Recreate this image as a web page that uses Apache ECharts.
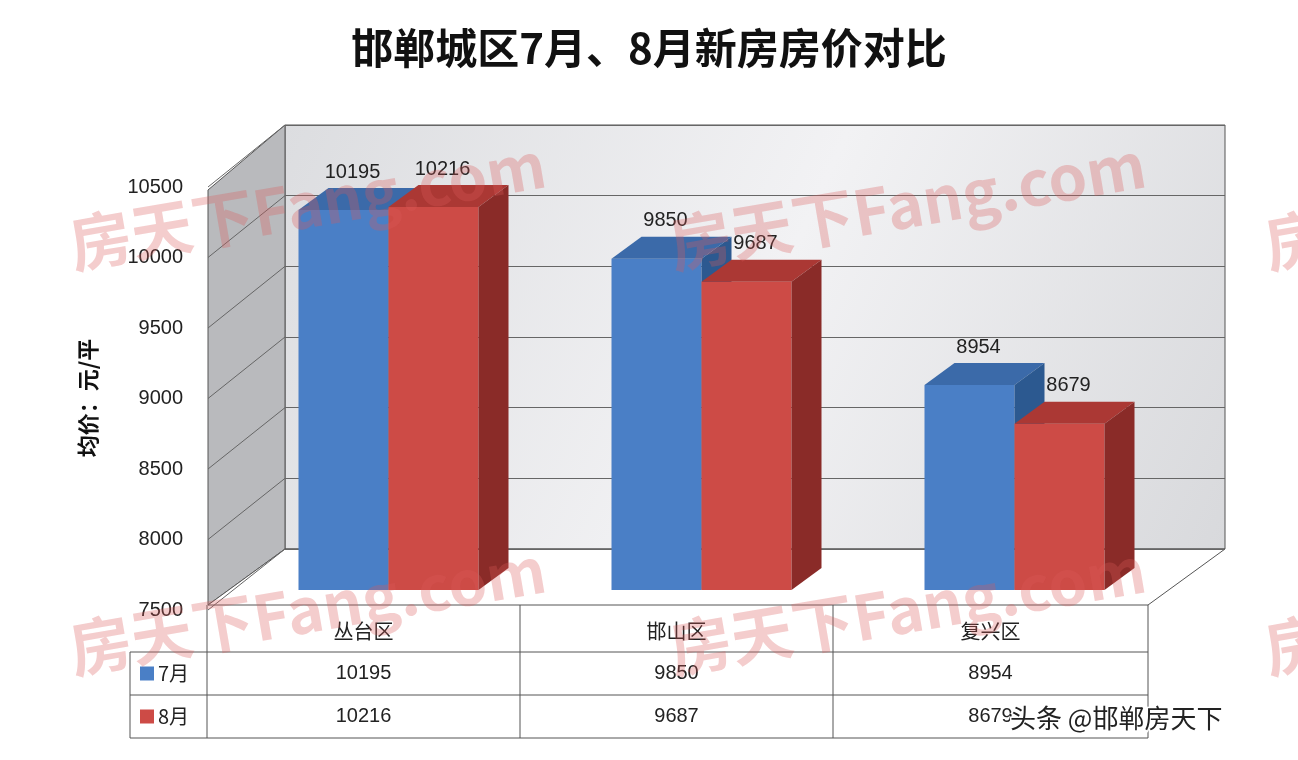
<!DOCTYPE html>
<html><head><meta charset="utf-8">
<script src="https://cdn.jsdelivr.net/npm/echarts@6/dist/echarts.min.js"></script>
<style>html,body{margin:0;padding:0;background:#fff}#c{width:1298px;height:760px}</style>
</head><body><div id="c"></div>
<script>
const categories = ["丛台区", "邯山区", "复兴区"];
const months = ["7月", "8月"];
const july = [10195, 9850, 8954];
const august = [10216, 9687, 8679];
const yMin = 7500, yMax = 10500, yStep = 500;

const fronts = ["#4a7fc6", "#cd4b46"];
const tops = ["#3b6aa9", "#ab3834"];
const sides = ["#2c5990", "#8a2b28"];
const DX = 30, DY = 22, W = 90;

function barSeries(idx, values) {
    return {
        type: "custom",
        xAxisIndex: 0, yAxisIndex: 0,
        data: values.map((v, i) => [i, v]),
        renderItem: function (params, api) {
            const i = api.value(0), v = api.value(1);
            const p = api.coord([i, v]);
            const base = api.coord([i, yMin])[1];
            const x0 = p[0] + (idx === 0 ? -W : 0), top = p[1];
            return {
                type: "group",
                children: [
                    {type: "rect", shape: {x: x0, y: top, width: W, height: base - top}, style: {fill: fronts[idx]}},
                    {type: "polygon", shape: {points: [[x0, top], [x0 + DX, top - DY], [x0 + W + DX, top - DY], [x0 + W, top]]}, style: {fill: tops[idx]}},
                    {type: "polygon", shape: {points: [[x0 + W, top], [x0 + W + DX, top - DY], [x0 + W + DX, base - DY], [x0 + W, base]]}, style: {fill: sides[idx]}},
                    {type: "text", style: {text: String(v), x: x0 + W / 2 + DX / 2 - 6, y: top - DY - 6, textAlign: "center", textVerticalAlign: "bottom", fill: "#222", font: "20px 'Liberation Sans', Arial"}}
                ]
            };
        }
    };
}

const chart = echarts.init(document.getElementById("c"));
chart.setOption({
    animation: false,
    title: {text: "邯郸城区7月、8月新房房价对比", left: "center", top: 22,
        textStyle: {fontSize: 42, fontWeight: "bold", color: "#111", fontFamily: "'Noto Sans CJK SC', serif"}},
    grid: [
        {left: 232, width: 939, top: 167, height: 423},
        {left: 200, width: 10, top: 187, height: 423},
        {left: 285, width: 940, top: 125, height: 424}
    ],
    xAxis: [
        {gridIndex: 0, type: "category", data: categories, show: false},
        {gridIndex: 1, type: "value", show: false},
        {gridIndex: 2, type: "value", show: false}
    ],
    yAxis: [
        {gridIndex: 0, type: "value", min: yMin, max: yMax, show: false},
        {gridIndex: 1, type: "value", min: yMin, max: yMax, interval: yStep,
            axisLine: {show: false}, axisTick: {show: false}, splitLine: {show: false},
            axisLabel: {margin: 17, fontSize: 20, color: "#222", fontFamily: "'Liberation Sans', Arial", formatter: v => String(v)}},
        {gridIndex: 2, type: "value", min: yMin, max: yMax, interval: yStep,
            axisLine: {show: false}, axisTick: {show: false}, axisLabel: {show: false},
            splitLine: {lineStyle: {color: "#666", width: 1}}}
    ],
    series: [barSeries(0, july), barSeries(1, august)]
});

// walls, floor, table, watermarks
const g = [];
g.push({type: "polygon", z: -10, shape: {points: [[285, 125], [1225, 125], [1225, 549], [285, 549]]},
    style: {fill: {type: "linear", x: 0, y: 0, x2: 1, y2: 1, colorStops: [{offset: 0, color: "#dcdde0"}, {offset: 0.5, color: "#f2f2f4"}, {offset: 1, color: "#d8d9dc"}]}, stroke: "#555"}});
g.push({type: "polygon", z: -10, shape: {points: [[285, 125], [285, 549], [208, 605], [208, 190]]},
    style: {fill: "#b9babd", stroke: "#555"}});
g.push({type: "polygon", z: -10, shape: {points: [[285, 549], [1225, 549], [1148, 605], [208, 605]]},
    style: {fill: "#fff", stroke: "#555"}});
for (let v = yMin; v <= yMax; v += yStep) {
    const yb = chart.convertToPixel({gridIndex: 2}, [0, v])[1];
    const yf = chart.convertToPixel({gridIndex: 1}, [0, v])[1];
    g.push({type: "line", z: -9, shape: {x1: 208, y1: yf, x2: 285, y2: yb}, style: {stroke: "#666"}});
}
// y-axis title
g.push({type: "text", rotation: Math.PI / 2, x: 88, y: 398,
    style: {text: "均价：元/平", textAlign: "center", textVerticalAlign: "middle", fill: "#111", font: "bold 22px 'Noto Sans CJK SC'"}});
// table
const cols = [207, 520, 833, 1148];
const rows = [610, 652, 695, 738];
g.push({type: "polyline", shape: {points: [[207, 605], [207, 738]]}, style: {stroke: "#555"}});
for (let c = 1; c < 4; c++) g.push({type: "line", shape: {x1: cols[c], y1: 605, x2: cols[c], y2: 738}, style: {stroke: "#555"}});
g.push({type: "line", shape: {x1: 130, y1: 652, x2: 130, y2: 738}, style: {stroke: "#555"}});
for (let r = 1; r < 4; r++) g.push({type: "line", shape: {x1: 130, y1: rows[r], x2: 1148, y2: rows[r]}, style: {stroke: "#555"}});
categories.forEach((c, i) => g.push({type: "text", x: (cols[i] + cols[i + 1]) / 2, y: 631,
    style: {text: c, textAlign: "center", textVerticalAlign: "middle", fill: "#222", font: "20px 'Noto Sans CJK SC'"}}));
[july, august].forEach((arr, m) => {
    const yc = (rows[m + 1] + rows[m + 2]) / 2;
    g.push({type: "rect", shape: {x: 140, y: yc - 7, width: 14, height: 14}, style: {fill: fronts[m]}});
    g.push({type: "text", x: 158, y: yc, style: {text: months[m], textVerticalAlign: "middle", fill: "#222", font: "20px 'Noto Sans CJK SC'"}});
    arr.forEach((v, i) => g.push({type: "text", x: (cols[i] + cols[i + 1]) / 2, y: yc,
        style: {text: String(v), textAlign: "center", textVerticalAlign: "middle", fill: "#222", font: "20px 'Liberation Sans', Arial"}}));
});
// watermarks
[[70, 245], [670, 245], [1265, 245], [70, 650], [670, 650], [1265, 650]].forEach(p => g.push({
    type: "text", x: p[0], y: p[1], rotation: 0.17, z: 100,
    style: {text: "房天下Fang.com", fill: "rgba(220,90,90,0.3)", font: "bold 62px 'Noto Sans CJK SC'", textVerticalAlign: "middle"}}));
g.push({type: "text", x: 1010, y: 718, z: 101, style: {text: "头条 @邯郸房天下", fill: "#222", font: "26px 'Noto Sans CJK SC'", textVerticalAlign: "middle", stroke: "#fff", lineWidth: 3}});
chart.setOption({graphic: g});
</script></body></html>
